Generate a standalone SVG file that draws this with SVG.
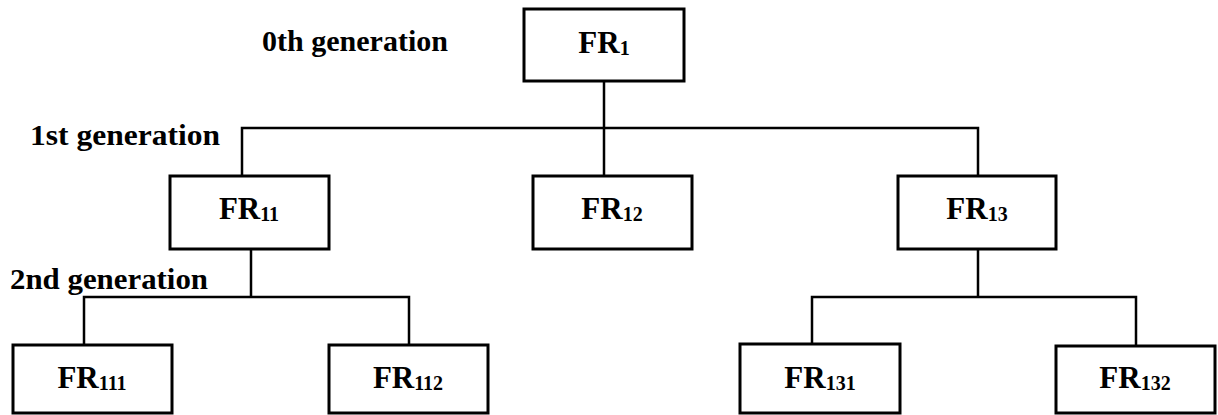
<svg xmlns="http://www.w3.org/2000/svg" width="1218" height="415" viewBox="0 0 1218 415">
<style>
.box{fill:#fff;stroke:#000;stroke-width:3}
.fr{font-family:"Liberation Serif","Times New Roman",serif;font-weight:bold;font-size:31px;fill:#000;text-anchor:middle}
.sub{font-size:20px}
.lbl{font-family:"Liberation Serif","Times New Roman",serif;font-weight:bold;font-size:29px;fill:#000}
.con{fill:none;stroke:#000;stroke-width:2.5}
</style>
<rect width="1218" height="415" fill="#fff"/>
<g id="labels">
<text class="lbl" x="262" y="51" textLength="186" lengthAdjust="spacingAndGlyphs">0th generation</text>
<text class="lbl" x="30" y="145" textLength="190" lengthAdjust="spacingAndGlyphs">1st generation</text>
<text class="lbl" x="10" y="289" textLength="198" lengthAdjust="spacingAndGlyphs">2nd generation</text>
</g>
<g id="connectors">
<path class="con" d="M604 81V128M242 176V128H978V176M604 128V176"/>
<path class="con" d="M251 249V297M84 345V297H409V345"/>
<path class="con" d="M978 249V297M812 345V297H1136V346"/>
</g>
<g id="FR1"><rect class="box" x="524" y="9" width="160" height="72"/><text class="fr" x="604" y="53">FR<tspan class="sub" dy="2">1</tspan></text></g>
<g id="FR11"><rect class="box" x="170" y="176" width="159" height="73"/><text class="fr" x="249" y="219">FR<tspan class="sub" dy="2">11</tspan></text></g>
<g id="FR12"><rect class="box" x="533" y="176" width="159" height="73"/><text class="fr" x="612" y="219">FR<tspan class="sub" dy="2">12</tspan></text></g>
<g id="FR13"><rect class="box" x="898" y="176" width="158" height="73"/><text class="fr" x="977" y="219">FR<tspan class="sub" dy="2">13</tspan></text></g>
<g id="FR111"><rect class="box" x="13" y="345" width="159" height="68"/><text class="fr" x="92" y="388">FR<tspan class="sub" dy="2">111</tspan></text></g>
<g id="FR112"><rect class="box" x="329" y="345" width="159" height="68"/><text class="fr" x="408" y="388">FR<tspan class="sub" dy="2">112</tspan></text></g>
<g id="FR131"><rect class="box" x="740" y="344" width="160" height="69"/><text class="fr" x="820" y="388">FR<tspan class="sub" dy="2">131</tspan></text></g>
<g id="FR132"><rect class="box" x="1056" y="346" width="159" height="67"/><text class="fr" x="1135" y="388">FR<tspan class="sub" dy="2">132</tspan></text></g>
</svg>
